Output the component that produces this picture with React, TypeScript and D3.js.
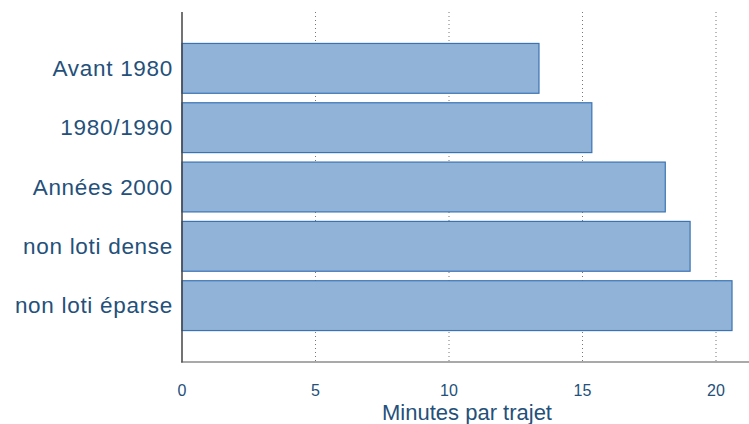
import React from "react";
import * as d3 from "d3";

const categories = ["Avant 1980", "1980/1990", "Années 2000", "non loti dense", "non loti éparse"];
const values = [13.37, 15.35, 18.1, 19.03, 20.6];
const xTicks = [0, 5, 10, 15, 20];
const xTitle = "Minutes par trajet";

export default function App() {
  const W = 749, H = 424;
  const x = d3.scaleLinear().domain([0, 20]).range([182, 716]);
  const y = d3.scaleBand<string>().domain(categories).range([12, 362]).paddingInner(0.16).paddingOuter(0.53);
  const font = "Helvetica, Arial, 'Liberation Sans', sans-serif";
  const textColor = "#24507a";
  return (
    <svg width={W} height={H} style={{ position: "absolute", left: 0, top: 0 }} fontFamily={font}>
      {xTicks.filter(t => t > 0).map(t => (
        <line key={t} x1={x(t)} x2={x(t)} y1={12} y2={362} stroke="#777" strokeWidth={1} strokeDasharray="1,3" />
      ))}
      {categories.map((c, i) => (
        <g key={c}>
          <rect x={x(0)} y={y(c)!} width={x(values[i]) - x(0)} height={y.bandwidth()} fill="#91b3d7" stroke="#3a73b4" strokeWidth={1.2} />
          <text x={173} y={y(c)! + y.bandwidth() / 2} textAnchor="end" dominantBaseline="central" fontSize={22.5} letterSpacing={0.7} fill={textColor}>{c}</text>
        </g>
      ))}
      <line x1={182} x2={182} y1={12} y2={362.5} stroke="#444" strokeWidth={1.5} />
      <line x1={181} x2={W} y1={362} y2={362} stroke="#555" strokeWidth={1.2} />
      {xTicks.map(t => (
        <text key={t} x={x(t)} y={396} textAnchor="middle" fontSize={16} fill={textColor}>{t}</text>
      ))}
      <text x={467} y={420} textAnchor="middle" fontSize={22} fill={textColor}>{xTitle}</text>
    </svg>
  );
}
